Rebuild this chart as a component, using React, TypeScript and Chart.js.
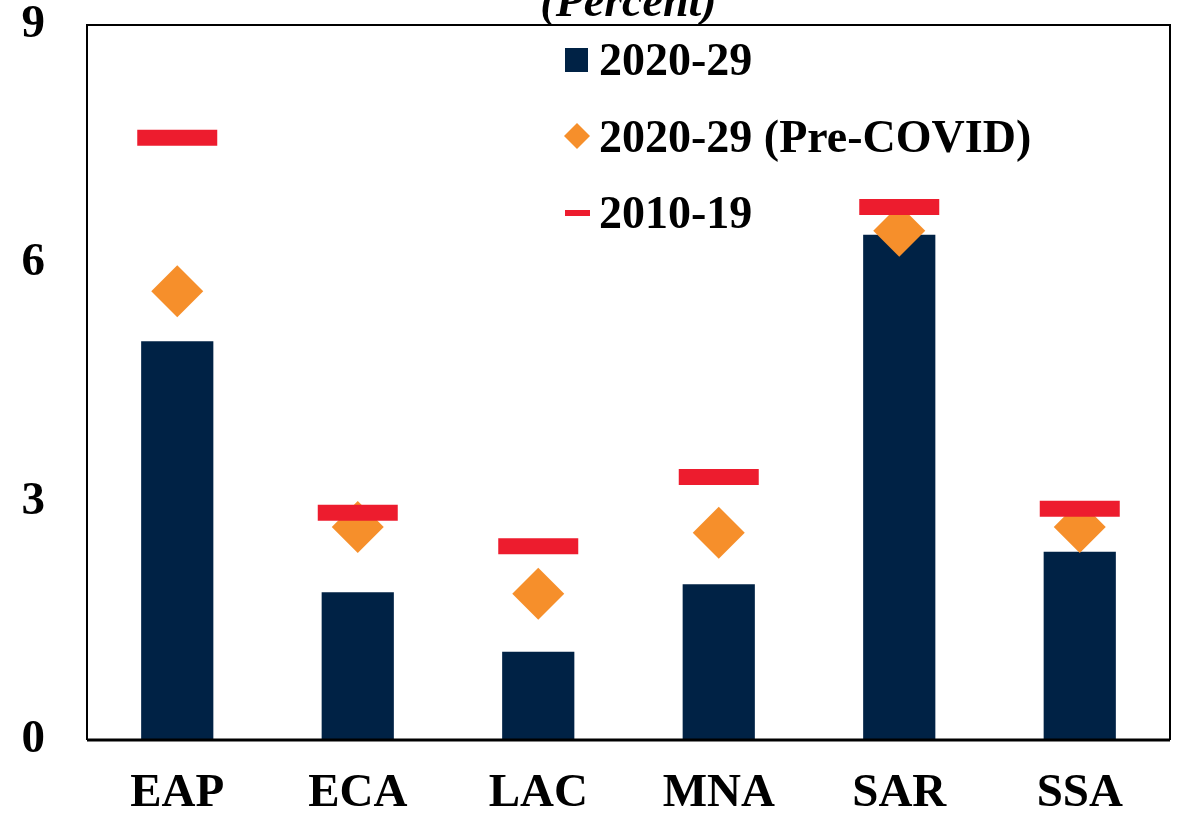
import React, { useEffect, useRef } from "react";
import { Chart, registerables } from "chart.js";

Chart.register(...registerables);

const categories = ["EAP", "ECA", "LAC", "MNA", "SAR", "SSA"];
const growth2020s = [5.02, 1.86, 1.11, 1.96, 6.36, 2.37];
const growthPreCovid = [5.65, 2.68, 1.84, 2.61, 6.41, 2.68];
const growth2010s = [7.58, 2.86, 2.44, 3.31, 6.71, 2.91];
const yTicks = [0, 3, 6, 9];
const legendLabels = ["2020-29", "2020-29 (Pre-COVID)", "2010-19"];
const titleText = "(Percent)";

const NAVY = "#002245";
const ORANGE = "#F68F2B";
const RED = "#ED1C2E";
const FONT = "'Liberation Serif', 'Times New Roman', serif";

const framePlugin = {
  id: "frameAndLegend",
  afterDraw(chart: any) {
    const { ctx, chartArea } = chart;
    const { left, right, top, bottom } = chartArea;
    ctx.save();
    // frame
    ctx.strokeStyle = "#000";
    ctx.lineWidth = 2;
    ctx.beginPath();
    ctx.moveTo(left, bottom);
    ctx.lineTo(left, top);
    ctx.lineTo(right, top);
    ctx.lineTo(right, bottom);
    ctx.stroke();
    ctx.lineWidth = 3;
    ctx.beginPath();
    ctx.moveTo(left, bottom);
    ctx.lineTo(right, bottom);
    ctx.stroke();

    // title
    ctx.fillStyle = "#000";
    ctx.font = `italic bold 46px ${FONT}`;
    ctx.textAlign = "center";
    ctx.textBaseline = "alphabetic";
    ctx.fillText(titleText, (left + right) / 2, 16);

    // legend
    const mx = 577;
    const tx = 599;
    const baselines = [75, 152, 228];
    const centers = [60, 136, 213];
    ctx.font = `bold 46px ${FONT}`;
    ctx.textAlign = "left";
    legendLabels.forEach((lab, i) => {
      ctx.fillStyle = "#000";
      ctx.fillText(lab, tx, baselines[i]);
    });
    ctx.fillStyle = NAVY;
    ctx.fillRect(mx - 12, centers[0] - 12, 23, 24);
    ctx.fillStyle = ORANGE;
    ctx.beginPath();
    ctx.moveTo(mx - 13, centers[1]);
    ctx.lineTo(mx, centers[1] - 13);
    ctx.lineTo(mx + 13, centers[1]);
    ctx.lineTo(mx, centers[1] + 13);
    ctx.closePath();
    ctx.fill();
    ctx.fillStyle = RED;
    ctx.fillRect(mx - 12, centers[2] - 3, 25, 6);
    ctx.restore();
  },
};

export default function App() {
  const ref = useRef<HTMLCanvasElement | null>(null);

  useEffect(() => {
    if (!ref.current) return;
    const chart = new Chart(ref.current, {
      type: "bar",
      data: {
        labels: categories,
        datasets: [
          {
            type: "line",
            label: legendLabels[2],
            data: growth2010s,
            showLine: false,
            pointStyle: "line",
            pointRadius: 40,
            pointHoverRadius: 40,
            pointBorderWidth: 16,
            pointHoverBorderWidth: 16,
            borderColor: RED,
            backgroundColor: RED,
            order: 1,
          } as any,
          {
            type: "line",
            label: legendLabels[1],
            data: growthPreCovid,
            showLine: false,
            pointStyle: "rectRot",
            pointRadius: 26,
            pointHoverRadius: 26,
            pointBorderWidth: 0,
            borderColor: ORANGE,
            backgroundColor: ORANGE,
            order: 2,
          } as any,
          {
            type: "bar",
            label: legendLabels[0],
            data: growth2020s,
            backgroundColor: NAVY,
            borderWidth: 0,
            barPercentage: 0.8,
            categoryPercentage: 0.5,
            order: 3,
          },
        ],
      },
      options: {
        responsive: false,
        animation: false,
        layout: { autoPadding: false, padding: { left: 0, right: 19, top: 25, bottom: 0 } },
        plugins: {
          legend: { display: false },
          tooltip: { enabled: false },
          title: { display: false },
        },
        scales: {
          x: {
            grid: { display: false, drawTicks: false },
            border: { display: false },
            ticks: {
              color: "#000",
              padding: 26,
              font: { family: FONT, size: 47, weight: "bold" },
            },
            afterFit(scale: any) {
              scale.height = 73;
              scale.paddingLeft = 0;
              scale.paddingRight = 0;
            },
          },
          y: {
            min: 0,
            max: 9,
            grid: { display: false, drawTicks: false },
            border: { display: false },
            afterBuildTicks(scale: any) {
              scale.ticks = yTicks.map((v) => ({ value: v }));
            },
            ticks: {
              color: "#000",
              padding: 42,
              font: { family: FONT, size: 47, weight: "bold" },
            },
            afterFit(scale: any) {
              scale.width = 87;
              scale.paddingTop = 0;
              scale.paddingBottom = 0;
            },
          },
        },
      },
      plugins: [framePlugin],
    });
    return () => chart.destroy();
  }, []);

  return (
    <div style={{ position: "absolute", left: 0, top: 0, width: 1189, height: 813, background: "#fff" }}>
      <canvas ref={ref} width={1189} height={813} style={{ width: 1189, height: 813, display: "block" }} />
    </div>
  );
}
